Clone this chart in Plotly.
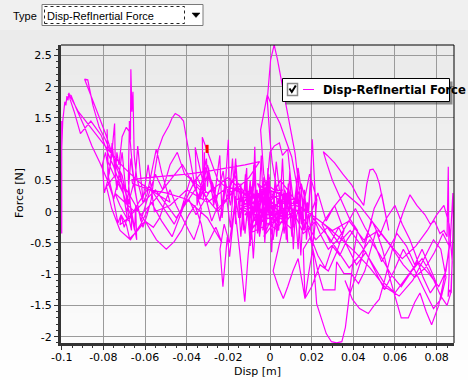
import plotly.graph_objects as go

# ---------------- data ----------------
x_ticks = [-0.1, -0.08, -0.06, -0.04, -0.02, 0.0, 0.02, 0.04, 0.06, 0.08]
x_tick_labels = ["-0.1", "-0.08", "-0.06", "-0.04", "-0.02", "0", "0.02", "0.04", "0.06", "0.08"]
y_ticks = [-2.0, -1.5, -1.0, -0.5, 0.0, 0.5, 1.0, 1.5, 2.0, 2.5]
y_tick_labels = ["-2", "-1.5", "-1", "-0.5", "0", "0.5", "1", "1.5", "2", "2.5"]

seg_a_disp = [-0.1, -0.1, -0.1, -0.1, -0.0995, -0.099, -0.0985, -0.098, -0.0975, -0.097, -0.0965, -0.096,
              -0.094, -0.091, -0.086, -0.081, -0.078, -0.075, -0.072, -0.069, -0.066, -0.065, -0.0645, -0.064]
seg_a_force = [-0.35, 1.45, 0.3, 1.0, 1.45, 1.62, 1.76, 1.7, 1.85, 1.78, 1.9, 1.8,
               1.6, 1.25, 1.45, 1.22, 0.95, 0.72, 0.45, 0.15, -0.15, -0.3, 0.1, -0.45]

seg_b_disp = [-0.067, -0.071, -0.075, -0.079, -0.083, -0.0865, -0.0888, -0.089, -0.0875, -0.0868,
              -0.085, -0.082, -0.079, -0.0765, -0.074, -0.071, -0.069, -0.0678, -0.0665]
seg_b_force = [0.1, 0.45, 0.85, 1.25, 1.6, 1.9, 2.08, 2.12, 2.11, 2.0,
               1.7, 1.35, 1.15, 0.95, 0.78, 0.58, 0.25, -0.1, -0.3]

seg_c_disp = [-0.0665, -0.068, -0.0675, -0.067, -0.0668, -0.0663, -0.0658, -0.0652, -0.064, -0.0625,
              -0.061, -0.059, -0.0575, -0.0555, -0.0546, -0.0535, -0.052, -0.05, -0.048]
seg_c_force = [-0.1, 0.5, 1.45, 1.15, 2.28, 1.6, 1.92, 0.9, 0.55, 0.35,
               0.15, 0.28, 0.52, 0.82, 1.0, 0.85, 0.62, 0.4, 0.15]

seg_d_disp = [-0.048, -0.055, -0.062, -0.07, -0.078, -0.085, -0.092, -0.0955, -0.097, -0.0955,
              -0.093, -0.089, -0.0855, -0.0816, -0.078, -0.0755, -0.073, -0.0715, -0.070, -0.0685]
seg_d_force = [0.15, 0.3, 0.45, 0.7, 1.0, 1.3, 1.6, 1.82, 1.88, 1.86,
               1.65, 1.35, 1.05, 0.78, 0.5, 0.25, -0.18, -0.05, -0.25, -0.1]

seg_e_disp = [-0.0685, -0.0705, -0.0745, -0.0778, -0.0782, -0.0778, -0.0762, -0.0746, -0.0742, -0.0735,
              -0.0725, -0.071, -0.069, -0.0675, -0.066, -0.0645, -0.063, -0.061, -0.059, -0.057]
seg_e_force = [-0.1, 0.3, 0.55, 0.8, 1.32, 0.5, 0.85, 1.41, 0.6, 0.95,
               0.75, 1.2, 1.35, 1.28, 0.7, 0.3, 0.0, -0.25, -0.05, 0.2]

seg_f_disp = [-0.057, -0.0555, -0.0537, -0.0515, -0.0485, -0.047, -0.0455, -0.0435, -0.0415, -0.0405,
              -0.0395, -0.0385, -0.0375, -0.036, -0.0345, -0.033, -0.034, -0.0365, -0.039, -0.042,
              -0.045, -0.048, -0.0505, -0.053]
seg_f_force = [0.2, 0.6, 0.99, 1.2, 1.38, 1.5, 1.57, 1.53, 1.45, 1.25,
               1.05, 0.88, 0.65, 0.4, 0.2, 0.05, -0.2, -0.45, -0.3, -0.1,
               0.1, 0.35, 0.15, -0.1]

seg_g_disp = [-0.053, -0.056, -0.06, -0.0635, -0.0674, -0.069, -0.0715, -0.072, -0.068, -0.064,
              -0.059, -0.0545, -0.0498, -0.046, -0.0425, -0.039, -0.036, -0.033, -0.031, -0.029,
              -0.026, -0.023]
seg_g_force = [-0.1, -0.25, -0.15, -0.3, -0.43, -0.2, -0.05, -0.21, -0.1, 0.05,
               -0.2, -0.45, -0.6, -0.48, -0.3, -0.05, 0.1, -0.2, -0.55, -0.45,
               -0.25, -0.5]

seg_h_disp = [-0.023, -0.03, -0.04, -0.05, -0.058, -0.066, -0.0663, -0.06, -0.05, -0.04,
              -0.031, -0.02, -0.012, -0.005, -0.01, -0.018, -0.025, -0.0325, -0.032, -0.0315,
              -0.031, -0.0359, -0.035, -0.0305, -0.030, -0.0295]
seg_h_force = [-0.5, -0.1, 0.2, 0.3, 0.35, 0.45, 0.51, 0.54, 0.57, 0.6,
               0.64, 0.7, 0.75, 0.8, 0.55, 0.3, 0.5, 1.19, 0.2, 0.95,
               0.3, 1.03, 0.1, 0.85, 0.4, 0.7]

seg_i_disp = [-0.0295, -0.027, -0.0255, -0.0241, -0.023, -0.0215, -0.02, -0.0195, -0.018, -0.0165,
              -0.016, -0.0148, -0.014, -0.0128, -0.0125, -0.0112, -0.0105, -0.0095, -0.009, -0.008,
              -0.0073, -0.0065, -0.006, -0.005, -0.0045, -0.0035, -0.003, -0.002]
seg_i_force = [0.7, 0.1, 0.55, 0.9, -0.1, 0.4, 1.15, 0.2, 0.85, -0.2,
               0.6, 0.05, 0.45, -0.3, 0.3, 0.7, -0.15, 0.5, 0.1, 0.35,
               1.04, -0.05, 0.25, -0.35, 0.4, 0.0, 0.55, -0.2]

seg_j_disp = [-0.002, -0.004, -0.0058, -0.0075, -0.009, -0.0105, -0.012, -0.0138, -0.015, -0.0165,
              -0.018, -0.0194, -0.0205, -0.0226, -0.024, -0.022, -0.0195, -0.017, -0.0145, -0.0121,
              -0.0105, -0.009, -0.008, -0.0065, -0.005, -0.0035]
seg_j_force = [-0.2, 0.3, -0.25, 0.2, -0.45, 0.15, -0.35, 0.35, -0.1, 0.25,
               -0.3, -0.72, -0.4, -1.2, -0.6, -0.2, -0.5, 0.1, -0.65, -1.44,
               -0.7, -0.2, -0.75, 0.05, -0.4, 0.2]

seg_k_disp = [-0.0035, -0.002, -0.0005, 0.0, -0.0012, -0.0025, -0.004, -0.0055, -0.007, -0.0085,
              -0.0098, -0.011, -0.0095, -0.008, -0.0062, -0.0048, -0.003, -0.0015, 0.0005, 0.002,
              0.0032, 0.0045, 0.0055, 0.0065, 0.0075, 0.0085]
seg_k_force = [0.2, -0.3, 0.35, -0.1, 0.45, -0.25, 0.3, -0.05, 0.4, -0.3,
               0.25, 0.0, 0.5, -0.15, 0.35, -0.35, 0.15, 0.5, -0.25, 0.25,
               -0.4, 0.1, 0.45, -0.2, 0.3, -0.5]

seg_l_disp = [0.0085, 0.006, 0.003, 0.001, 0.0, -0.0008, -0.0013, 0.0003, 0.002, 0.0035,
              0.0048, 0.0068, 0.0088, 0.0105, 0.012, 0.0135, 0.015, 0.016]
seg_l_force = [-0.5, 0.1, 0.4, 0.8, 1.15, 1.5, 1.79, 2.43, 2.67, 2.45,
               2.21, 1.85, 1.47, 1.2, 0.94, 0.5, 0.05, -0.3]

seg_m_disp = [0.016, 0.013, 0.01, 0.007, 0.004, 0.0, -0.003, -0.0045, -0.0013, 0.002,
              0.0048, 0.0075, 0.0104, 0.0125, 0.014, 0.0115, 0.009, 0.0065, 0.004, 0.0015,
              -0.001, -0.0035]
seg_m_force = [-0.3, 0.2, -0.1, 0.3, -0.2, 0.1, 0.6, 1.31, 1.87, 1.6,
               1.41, 1.15, 0.88, 0.5, 0.1, -0.25, 0.35, -0.15, 0.2, -0.45,
               0.05, -0.3]

seg_n_disp = [-0.0035, 0.0, 0.002, 0.0045, 0.006, 0.0085, 0.01, 0.0115, 0.0135, 0.015,
              0.0165, 0.0175, 0.019, 0.0203, 0.0215, 0.022, 0.0205, 0.018, 0.0165, 0.015,
              0.0135, 0.012, 0.0105, 0.009]
seg_n_force = [-0.3, 0.95, 1.05, 1.1, 0.9, 1.0, 0.5, 0.1, 0.6, -0.2,
               0.3, -0.45, 0.2, 1.16, 0.4, -0.1, -0.55, 0.15, -0.3, 0.4,
               -0.6, 0.05, -0.4, 0.25]

seg_o_disp = [0.009, 0.006, 0.003, 0.0015, 0.004, 0.0064, 0.0085, 0.011, 0.0135, 0.0155,
              0.0168, 0.0185, 0.0205, 0.0224, 0.025, 0.027, 0.0295, 0.032, 0.0345, 0.0362,
              0.0376, 0.0392, 0.0405, 0.042]
seg_o_force = [0.25, -0.3, -0.7, -0.95, -1.2, -1.39, -1.2, -0.95, -0.75, -1.1,
               -1.39, -1.0, -0.6, -1.47, -1.75, -1.95, -2.08, -2.1, -2.08, -1.85,
               -1.47, -0.93, -0.6, -0.3]

seg_p_disp = [0.042, 0.038, 0.034, 0.03, 0.027, 0.0256, 0.0275, 0.031, 0.035, 0.0392,
              0.042, 0.045, 0.0465, 0.048, 0.0495, 0.051, 0.0525, 0.054, 0.0555, 0.057]
seg_p_force = [-0.3, -0.1, 0.2, 0.5, 0.8, 0.96, 0.9, 0.78, 0.6, 0.43,
               0.25, 0.1, 0.45, 0.67, 0.68, 0.6, 0.45, 0.2, -0.05, -0.3]

seg_q_disp = [0.057, 0.0536, 0.05, 0.047, 0.044, 0.041, 0.0385, 0.036, 0.0395, 0.043,
              0.0472, 0.05, 0.0525, 0.055, 0.058, 0.061, 0.064, 0.0672, 0.0705, 0.0744,
              0.077, 0.079, 0.0816, 0.0835]
seg_q_force = [-0.3, 0.29, 0.05, -0.35, -0.75, -1.05, -1.3, -1.1, -1.4, -1.55,
               -1.63, -1.5, -1.4, -1.1, -0.7, -0.3, 0.0, 0.27, 0.1, -0.05,
               -0.2, -0.15, -0.35, -0.3]

seg_r_disp = [0.0835, 0.085, 0.0856, 0.0858, 0.086, 0.0855, 0.0862, 0.087, 0.0875, 0.088,
              0.0878, 0.0865, 0.084, 0.081, 0.0776, 0.075, 0.072, 0.0695, 0.0664, 0.063,
              0.06, 0.057, 0.054, 0.051]
seg_r_force = [-0.3, -0.4, 0.72, -0.2, -1.0, -1.36, -1.25, -1.3, -0.6, -0.15,
               0.3, -0.5, -1.0, -1.5, -1.81, -1.6, -1.3, -1.45, -1.7, -1.7,
               -1.35, -1.0, -0.6, -0.3]

seg_s_disp = [0.051, 0.048, 0.0455, 0.0425, 0.039, 0.0355, 0.032, 0.0312, 0.0284, 0.0256,
              0.023, 0.0205, 0.0185, 0.021, 0.024, 0.028, 0.0325, 0.037, 0.041, 0.0455,
              0.05, 0.0536, 0.057, 0.061, 0.0655, 0.0695, 0.073, 0.077, 0.08]
seg_s_force = [-0.3, -0.65, -0.95, -1.15, -0.99, -0.99, -0.8, -1.25, -1.25, -1.25,
               -0.95, -0.6, -0.3, -0.1, -0.35, -0.6, -0.45, -0.2, 0.05, -0.25,
               -0.5, -0.8, -0.6, -0.35, -0.55, -0.85, -0.6, -0.9, -1.15]

seg_t_disp = [0.08, 0.077, 0.0735, 0.07, 0.0672, 0.0635, 0.06, 0.056, 0.0525, 0.049,
              0.045, 0.041, 0.037, 0.0335, 0.03, 0.0265, 0.023, 0.0195, 0.016, 0.0168,
              0.02, 0.024, 0.028, 0.032, 0.0355]
seg_t_force = [-1.15, -1.3, -1.05, -0.7, -0.45, -0.2, 0.1, -0.1, -0.4, -0.15,
               -0.5, -0.25, -0.45, -0.7, -0.55, -0.9, -0.7, -0.4, -0.6, -1.39,
               -1.2, -0.85, -0.95, -0.65, -0.3]

seg_u_disp = [0.0355, 0.031, 0.027, 0.023, 0.019, 0.015, 0.011, 0.007, 0.003, -0.001,
              -0.005, -0.009, -0.013, -0.017, -0.021, -0.025, -0.0285, -0.032, -0.0355, -0.039,
              -0.0425]
seg_u_force = [-0.3, 0.1, -0.15, 0.3, -0.1, 0.45, 0.0, 0.35, -0.15, 0.3,
               -0.05, 0.4, 0.1, 0.6, 0.2, 0.05, 0.35, 0.15, -0.05, 0.2,
               0.05]

seg_v_disp = [-0.0425, -0.038, -0.034, -0.03, -0.026, -0.0225, -0.019, -0.0165, -0.014, -0.0118,
              -0.0095, -0.0078, -0.006, -0.0042, -0.0025, -0.001, 0.0008, 0.0025, 0.0042, 0.006,
              0.0078, 0.0095, 0.0112, 0.013, 0.0148, 0.0165, 0.018, 0.0195, 0.021, 0.0225]
seg_v_force = [0.05, 0.55, 0.2, 0.75, 0.15, 0.65, -0.25, 0.85, -0.4, 0.6,
               -0.55, 0.75, -0.35, 0.9, -0.5, 0.7, -0.65, 0.55, -0.3, 0.85,
               -0.45, 0.65, -0.6, 0.45, -0.7, 0.35, -0.2, 0.55, -0.45, 0.2]

seg_w_disp = [0.0225, 0.019, 0.016, 0.0135, 0.011, 0.0088, 0.0068, 0.0048, 0.003, 0.0012,
              -0.0006, -0.0024, -0.0042, -0.006, -0.008, -0.01, -0.012, -0.0142, -0.0165, -0.019,
              -0.0215, -0.024, -0.027, -0.03, -0.0335, -0.037]
seg_w_force = [0.2, 0.6, 0.1, 0.7, -0.15, 0.45, -0.35, 0.25, 0.8, -0.1,
               0.6, -0.45, 0.35, 0.05, 0.6, -0.3, 0.45, -0.1, 0.7, 0.1,
               0.5, -0.15, 0.3, 0.6, 0.2, 0.45]

seg_x_disp = [-0.037, -0.042, -0.048, -0.055, -0.062, -0.068, -0.074, -0.0785, -0.076, -0.072,
              -0.067, -0.062, -0.057, -0.052, -0.047, -0.043, -0.039, -0.035, -0.031, -0.028,
              -0.025, -0.0275, -0.031, -0.036, -0.041, -0.046, -0.052, -0.058, -0.063, -0.068,
              -0.072, -0.0745]
seg_x_force = [0.45, 0.75, 0.5, 0.2, -0.05, 0.3, 0.6, 0.4, 0.05, -0.3,
               -0.45, -0.2, 0.15, -0.15, -0.4, -0.05, 0.3, 0.55, 0.25, -0.15,
               0.1, 0.45, 0.7, 0.5, 0.15, -0.2, 0.1, 0.4, 0.15, -0.15,
               0.1, 0.3]

seg_y_disp = [-0.0745, -0.065, -0.055, -0.045, -0.035, -0.025, -0.015, -0.005, 0.005, 0.014,
              0.024, 0.033, 0.041, 0.048, 0.055, 0.062, 0.0685, 0.074, 0.0785, 0.082,
              0.0845, 0.082, 0.0785, 0.074, 0.069, 0.064, 0.0595, 0.055, 0.0505, 0.046,
              0.0415, 0.037, 0.033, 0.029, 0.025]
seg_y_force = [0.3, 0.0, 0.35, -0.1, 0.4, 0.0, 0.45, -0.1, 0.5, 0.1,
               -0.15, -0.4, -0.65, -0.9, -1.2, -1.35, -1.1, -0.75, -0.45, -0.6,
               -1.05, -1.4, -1.55, -1.25, -0.9, -0.6, -0.95, -1.25, -0.95, -0.65,
               -0.85, -0.55, -0.25, -0.5, -0.2]

seg_z_disp = [0.025, 0.03, 0.036, 0.043, 0.05, 0.057, 0.0635, 0.07, 0.0755, 0.08,
              0.0835, 0.086, 0.0875, 0.0868, 0.085, 0.082, 0.078, 0.073, 0.068, 0.063,
              0.058, 0.053, 0.048, 0.043, 0.038, 0.033, 0.028, 0.022, 0.016, 0.01,
              0.004, -0.002]
seg_z_force = [-0.2, 0.05, 0.3, 0.1, -0.2, -0.5, -0.75, -0.55, -0.3, -0.05,
               0.1, -0.2, -0.8, -1.3, -1.5, -1.35, -1.05, -0.75, -0.95, -1.2,
               -1.0, -0.7, -0.45, -0.7, -0.9, -0.65, -0.4, -0.15, -0.35, 0.1,
               -0.25, 0.15]

seg_aa_disp = [-0.002, -0.012, 0.006, -0.008, 0.01, -0.014, 0.004, -0.006, 0.012, -0.01,
               0.002, -0.015, 0.008, -0.004, 0.014, -0.009, 0.0, -0.012, 0.01, -0.003,
               0.006, -0.016, 0.003, -0.007, 0.011, -0.001]
seg_aa_force = [0.15, 0.35, 0.05, -0.15, 0.3, 0.1, -0.3, 0.45, 0.0, -0.35,
                0.25, 0.05, -0.2, 0.4, 0.15, -0.25, 0.55, -0.05, 0.2, -0.4,
                0.35, 0.2, -0.1, 0.3, -0.3, 0.1]

seg_bb_disp = [-0.001, -0.01, -0.02, -0.03, -0.04, -0.048, -0.0555, -0.0585, -0.061, -0.0635,
               -0.065, -0.0668, -0.0685, -0.071, -0.0735, -0.0758, -0.0772, -0.079, -0.0805, -0.0795,
               -0.0775, -0.075, -0.072, -0.069, -0.0655, -0.062, -0.0585, -0.055, -0.0515, -0.048,
               -0.0445, -0.041]
seg_bb_force = [0.1, 0.25, 0.4, 0.15, 0.35, 0.1, 0.0, 0.75, 0.2, 1.05,
                0.4, 0.85, 0.1, 0.95, 0.35, 1.1, 0.6, 0.95, 0.75, 0.3,
                0.55, 0.2, 0.65, 0.0, 0.45, -0.15, 0.25, 0.6, 0.35, 0.75,
                0.95, 0.6]

seg_cc_disp = [-0.041, -0.03, -0.02, -0.01, 0.0, 0.01, 0.02, 0.03, 0.038, 0.045,
               0.052, 0.058, 0.064, 0.0695, 0.0745, 0.079, 0.083, 0.086, 0.0845, 0.081,
               0.0765, 0.071, 0.0655, 0.06, 0.055, 0.0495, 0.044, 0.0385, 0.033, 0.0275,
               0.022, 0.017, 0.012, 0.007]
seg_cc_force = [0.6, 0.3, 0.55, 0.2, 0.4, 0.15, -0.05, -0.3, -0.15, -0.45,
                -0.3, -0.55, -0.85, -1.05, -0.9, -0.65, -0.35, -0.55, -0.95, -1.2,
                -1.0, -0.8, -1.05, -1.3, -1.15, -0.85, -0.55, -0.3, -0.5, -0.25,
                -0.45, -0.15, 0.05, -0.2]

# current-position marker (red)
marker_disp = [-0.0302, -0.0302]
marker_force = [0.94, 1.07]

disp_segments = [seg_a_disp, seg_b_disp, seg_c_disp, seg_d_disp, seg_e_disp, seg_f_disp, seg_g_disp,
                 seg_h_disp, seg_i_disp, seg_j_disp, seg_k_disp, seg_l_disp, seg_m_disp, seg_n_disp,
                 seg_o_disp, seg_p_disp, seg_q_disp, seg_r_disp, seg_s_disp, seg_t_disp, seg_u_disp,
                 seg_v_disp, seg_w_disp, seg_x_disp, seg_y_disp, seg_z_disp, seg_aa_disp, seg_bb_disp,
                 seg_cc_disp]
force_segments = [seg_a_force, seg_b_force, seg_c_force, seg_d_force, seg_e_force, seg_f_force, seg_g_force,
                  seg_h_force, seg_i_force, seg_j_force, seg_k_force, seg_l_force, seg_m_force, seg_n_force,
                  seg_o_force, seg_p_force, seg_q_force, seg_r_force, seg_s_force, seg_t_force, seg_u_force,
                  seg_v_force, seg_w_force, seg_x_force, seg_y_force, seg_z_force, seg_aa_force, seg_bb_force,
                  seg_cc_force]
disp = [v for s in disp_segments for v in s]
force = [v for s in force_segments for v in s]

# ---------------- layout geometry ----------------
W_FIG, H_FIG = 468, 390
L, R, T, B = 61, 14, 45, 47
PW = W_FIG - L - R
PH = H_FIG - T - B


def fx(x):
    return (x - L) / PW


def fy(y):
    return (H_FIG - B - y) / PH


def mix(c1, c2, t):
    return "rgb(%d,%d,%d)" % tuple(round(a + (b - a) * t) for a, b in zip(c1, c2))


def rect(x0, y0, x1, y1, fill=None, line_color=None, line_width=0, layer="above", dash=None):
    d = dict(type="rect", xref="paper", yref="paper", x0=fx(x0), x1=fx(x1), y0=fy(y1), y1=fy(y0),
             layer=layer, line=dict(width=line_width, color=line_color or "rgba(0,0,0,0)"))
    if dash:
        d["line"]["dash"] = dash
    if fill:
        d["fillcolor"] = fill
    return d


def path(pts, fill=None, line_color="black", line_width=1, closed=False):
    s = "M " + " L ".join("%f %f" % (fx(px), fy(py)) for px, py in pts)
    if closed:
        s += " Z"
    d = dict(type="path", xref="paper", yref="paper", path=s,
             line=dict(width=line_width, color=line_color))
    if fill:
        d["fillcolor"] = fill
    return d


shapes = []
# toolbar strip
shapes.append(rect(0, 0, W_FIG, 30, fill="#f0f0f0", layer="below"))
# outer background gradient
n = 36
for i in range(n):
    y0 = 30 + i * (360 / n)
    shapes.append(rect(0, y0, W_FIG, y0 + 360 / n + 0.6, fill=mix((235, 235, 235), (255, 255, 255), i / (n - 1)),
                       layer="below"))
# plot area gradient
n2 = 30
for i in range(n2):
    y0 = T + i * (PH / n2)
    shapes.append(rect(L, y0, L + PW, y0 + PH / n2 + 0.6,
                       fill=mix((234, 234, 234), (251, 251, 251), i / (n2 - 1)), layer="below"))

# plot borders (top / right)
shapes.append(dict(type="line", xref="paper", yref="paper", x0=0, x1=1, y0=1, y1=1, line=dict(color="black", width=1)))
shapes.append(dict(type="line", xref="paper", yref="paper", x0=1, x1=1, y0=0, y1=1, line=dict(color="black", width=1)))

# combobox
shapes.append(rect(42, 4.5, 203, 25.5, fill="white", line_color="#7a7a7a", line_width=1))
shapes.append(rect(44.5, 6.5, 184.5, 23.5, line_color="#222", line_width=1, dash="dot"))
shapes.append(path([(192, 13), (200, 13), (196, 17.5)], fill="black", line_color="black", line_width=0.5, closed=True))

# legend box
shapes.append(rect(285.5, 81.5, 452.5, 104.5, fill="rgba(60,60,60,0.55)"))
shapes.append(rect(282.5, 78.5, 449.5, 101.5, fill="white", line_color="black", line_width=1))
shapes.append(rect(287.5, 83.5, 297.5, 95.5, fill="white", line_color="#8a8a8a", line_width=1.5))
shapes.append(path([(289.5, 88.5), (291.8, 92), (295.8, 85.5)], line_color="black", line_width=2))
shapes.append(dict(type="line", xref="paper", yref="paper", x0=fx(303), x1=fx(314), y0=fy(89.5), y1=fy(89.5),
                   line=dict(color="#ff00ff", width=1)))

annotations = [
    dict(text="Type", x=fx(11), y=fy(15.5), xref="paper", yref="paper", xanchor="left", yanchor="middle",
         showarrow=False, font=dict(family="Liberation Sans", size=11, color="black")),
    dict(text="Disp-RefInertial Force", x=fx(45), y=fy(15.5), xref="paper", yref="paper", xanchor="left",
         yanchor="middle", showarrow=False, font=dict(family="Liberation Sans", size=11, color="black")),
    dict(text="<b>Disp-RefInertial Force</b>", x=fx(321), y=fy(90), xref="paper", yref="paper", xanchor="left",
         yanchor="middle", showarrow=False, font=dict(family="DejaVu Sans", size=11.6, color="black")),
    dict(text="Disp [m]", x=fx(257), y=fy(371), xref="paper", yref="paper", xanchor="center", yanchor="middle",
         showarrow=False, font=dict(family="DejaVu Sans", size=11, color="black")),
    dict(text="Force [N]", x=fx(20), y=fy(193), xref="paper", yref="paper", xanchor="center", yanchor="middle",
         textangle=-90, showarrow=False, font=dict(family="DejaVu Sans", size=11, color="black")),
]

fig = go.Figure()
fig.add_trace(go.Scatter(x=disp, y=force, mode="lines", line=dict(color="#ff00ff", width=1.2),
                         name="Disp-RefInertial Force", showlegend=False, hoverinfo="skip"))
fig.add_trace(go.Scatter(x=marker_disp, y=marker_force, mode="lines", line=dict(color="#ff0000", width=3),
                         showlegend=False, hoverinfo="skip"))

tick_font = dict(family="DejaVu Sans", size=11, color="black")
fig.update_layout(
    width=W_FIG, height=H_FIG, autosize=False,
    margin=dict(l=L, r=R, t=T, b=B, pad=0),
    paper_bgcolor="white", plot_bgcolor="rgba(0,0,0,0)",
    showlegend=False,
    shapes=shapes, annotations=annotations,
    xaxis=dict(range=[-0.10034, 0.08834], tickmode="array", tickvals=x_ticks, ticktext=x_tick_labels,
               ticks="outside", ticklen=4, tickwidth=1, tickcolor="#333",
               showline=True, linewidth=3, linecolor="#333", ticklabelstandoff=-2,
               showgrid=True, gridcolor="#9a9a9a", gridwidth=1, zeroline=False, tickfont=tick_font,
               minor=dict(tickmode="linear", tick0=-0.1, dtick=0.005, ticks="outside", ticklen=2,
                          tickcolor="#333", showgrid=False),
               fixedrange=True),
    yaxis=dict(range=[-2.1008, 2.667], tickmode="array", tickvals=y_ticks, ticktext=y_tick_labels,
               ticks="outside", ticklen=4, tickwidth=1, tickcolor="#333",
               showline=True, linewidth=3, linecolor="#333",
               showgrid=True, gridcolor="#9a9a9a", gridwidth=1, zeroline=False, tickfont=tick_font,
               minor=dict(tickmode="linear", tick0=0, dtick=0.1, ticks="outside", ticklen=2,
                          tickcolor="#333", showgrid=False),
               fixedrange=True),
)

fig.write_html("out.html", config={"displayModeBar": False},
               post_script="document.body.style.margin='0';document.body.style.padding='0';")
